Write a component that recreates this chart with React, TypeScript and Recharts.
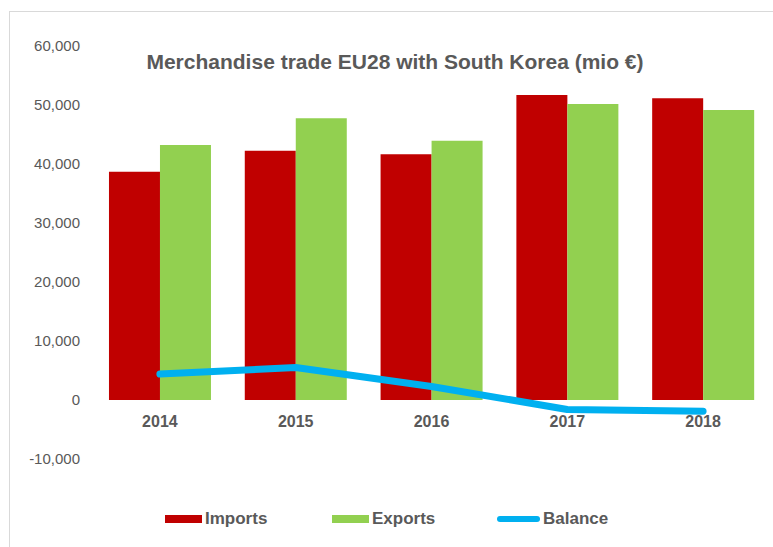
import { Bar, ComposedChart, Line, XAxis, YAxis } from 'recharts';

const years = ['2014', '2015', '2016', '2017', '2018'];
const importsValues = [38700, 42250, 41650, 51700, 51130];
const exportsValues = [43200, 47750, 43950, 50170, 49150];
const balanceValues = [4400, 5500, 2300, -1600, -1900];
const yTicks = [-10000, 0, 10000, 20000, 30000, 40000, 50000, 60000];

const seriesNames = ['Imports', 'Exports', 'Balance'];
const seriesColors = ['#C00000', '#92D050', '#00B0F0'];

const FONT = '"Liberation Sans", Arial, sans-serif';
const TEXT_GRAY = '#595959';

const chartData = years.map((year, i) => ({
  year,
  imports: importsValues[i],
  exports: exportsValues[i],
  balance: balanceValues[i],
}));

const formatThousands = (v: number) => v.toLocaleString('en-US');

// x labels sit just under the zero line, not at the bottom of the plot
const YearTick = ({ x, y, payload }: any) => (
  <text
    x={x}
    y={y - 40}
    textAnchor="middle"
    fontFamily={FONT}
    fontSize={16}
    fontWeight="bold"
    fill={TEXT_GRAY}
  >
    {payload.value}
  </text>
);

export default function App() {
  return (
    <div
      style={{
        position: 'absolute',
        left: 0,
        top: 0,
        width: 773,
        height: 547,
        background: '#fff',
        fontFamily: FONT,
        overflow: 'hidden',
      }}
    >
      <div
        style={{
          position: 'absolute',
          left: 9,
          top: 11,
          right: -2,
          bottom: -2,
          borderTop: '1px solid #d9d9d9',
          borderLeft: '1px solid #d9d9d9',
        }}
      />
      <div
        style={{
          position: 'absolute',
          left: 0,
          top: 50,
          width: 790,
          textAlign: 'center',
          fontSize: 21,
          fontWeight: 'bold',
          color: TEXT_GRAY,
          lineHeight: '24px',
        }}
      >
        Merchandise trade EU28 with South Korea (mio €)
      </div>
      <div style={{ position: 'absolute', left: 0, top: 0 }}>
        <ComposedChart
          width={773}
          height={547}
          data={chartData}
          margin={{ top: 46, right: 2, bottom: 58, left: 0 }}
          barCategoryGap="12.5%"
          barGap={0}
        >
          <XAxis
            dataKey="year"
            height={30}
            axisLine={false}
            tickLine={false}
            tick={<YearTick />}
            interval={0}
          />
          <YAxis
            width={92}
            domain={[-10000, 60000]}
            ticks={yTicks}
            axisLine={false}
            tickLine={false}
            tickMargin={6}
            tickFormatter={formatThousands}
            tick={{ fontFamily: FONT, fontSize: 15, fill: TEXT_GRAY }}
            interval={0}
          />
          <Bar dataKey="imports" name={seriesNames[0]} fill={seriesColors[0]} isAnimationActive={false} />
          <Bar dataKey="exports" name={seriesNames[1]} fill={seriesColors[1]} isAnimationActive={false} />
          <Line
            type="linear"
            dataKey="balance"
            name={seriesNames[2]}
            stroke={seriesColors[2]}
            strokeWidth={7}
            strokeLinecap="round"
            strokeLinejoin="round"
            dot={false}
            activeDot={false}
            isAnimationActive={false}
          />
        </ComposedChart>
      </div>
      <div
        style={{
          position: 'absolute',
          left: 0,
          top: 507,
          width: 773,
          height: 24,
          fontSize: 17,
          fontWeight: 'bold',
          color: TEXT_GRAY,
        }}
      >
        {seriesNames.map((name, i) => (
          <div
            key={name}
            style={{
              position: 'absolute',
              left: [165, 332, 497][i],
              top: 0,
              display: 'flex',
              alignItems: 'center',
              height: 24,
            }}
          >
            <span
              style={{
                display: 'inline-block',
                width: i === 2 ? 43 : 37,
                height: i === 2 ? 6 : 8,
                borderRadius: i === 2 ? 3 : 0,
                background: seriesColors[i],
                marginRight: 3,
              }}
            />
            <span>{name}</span>
          </div>
        ))}
      </div>
    </div>
  );
}
